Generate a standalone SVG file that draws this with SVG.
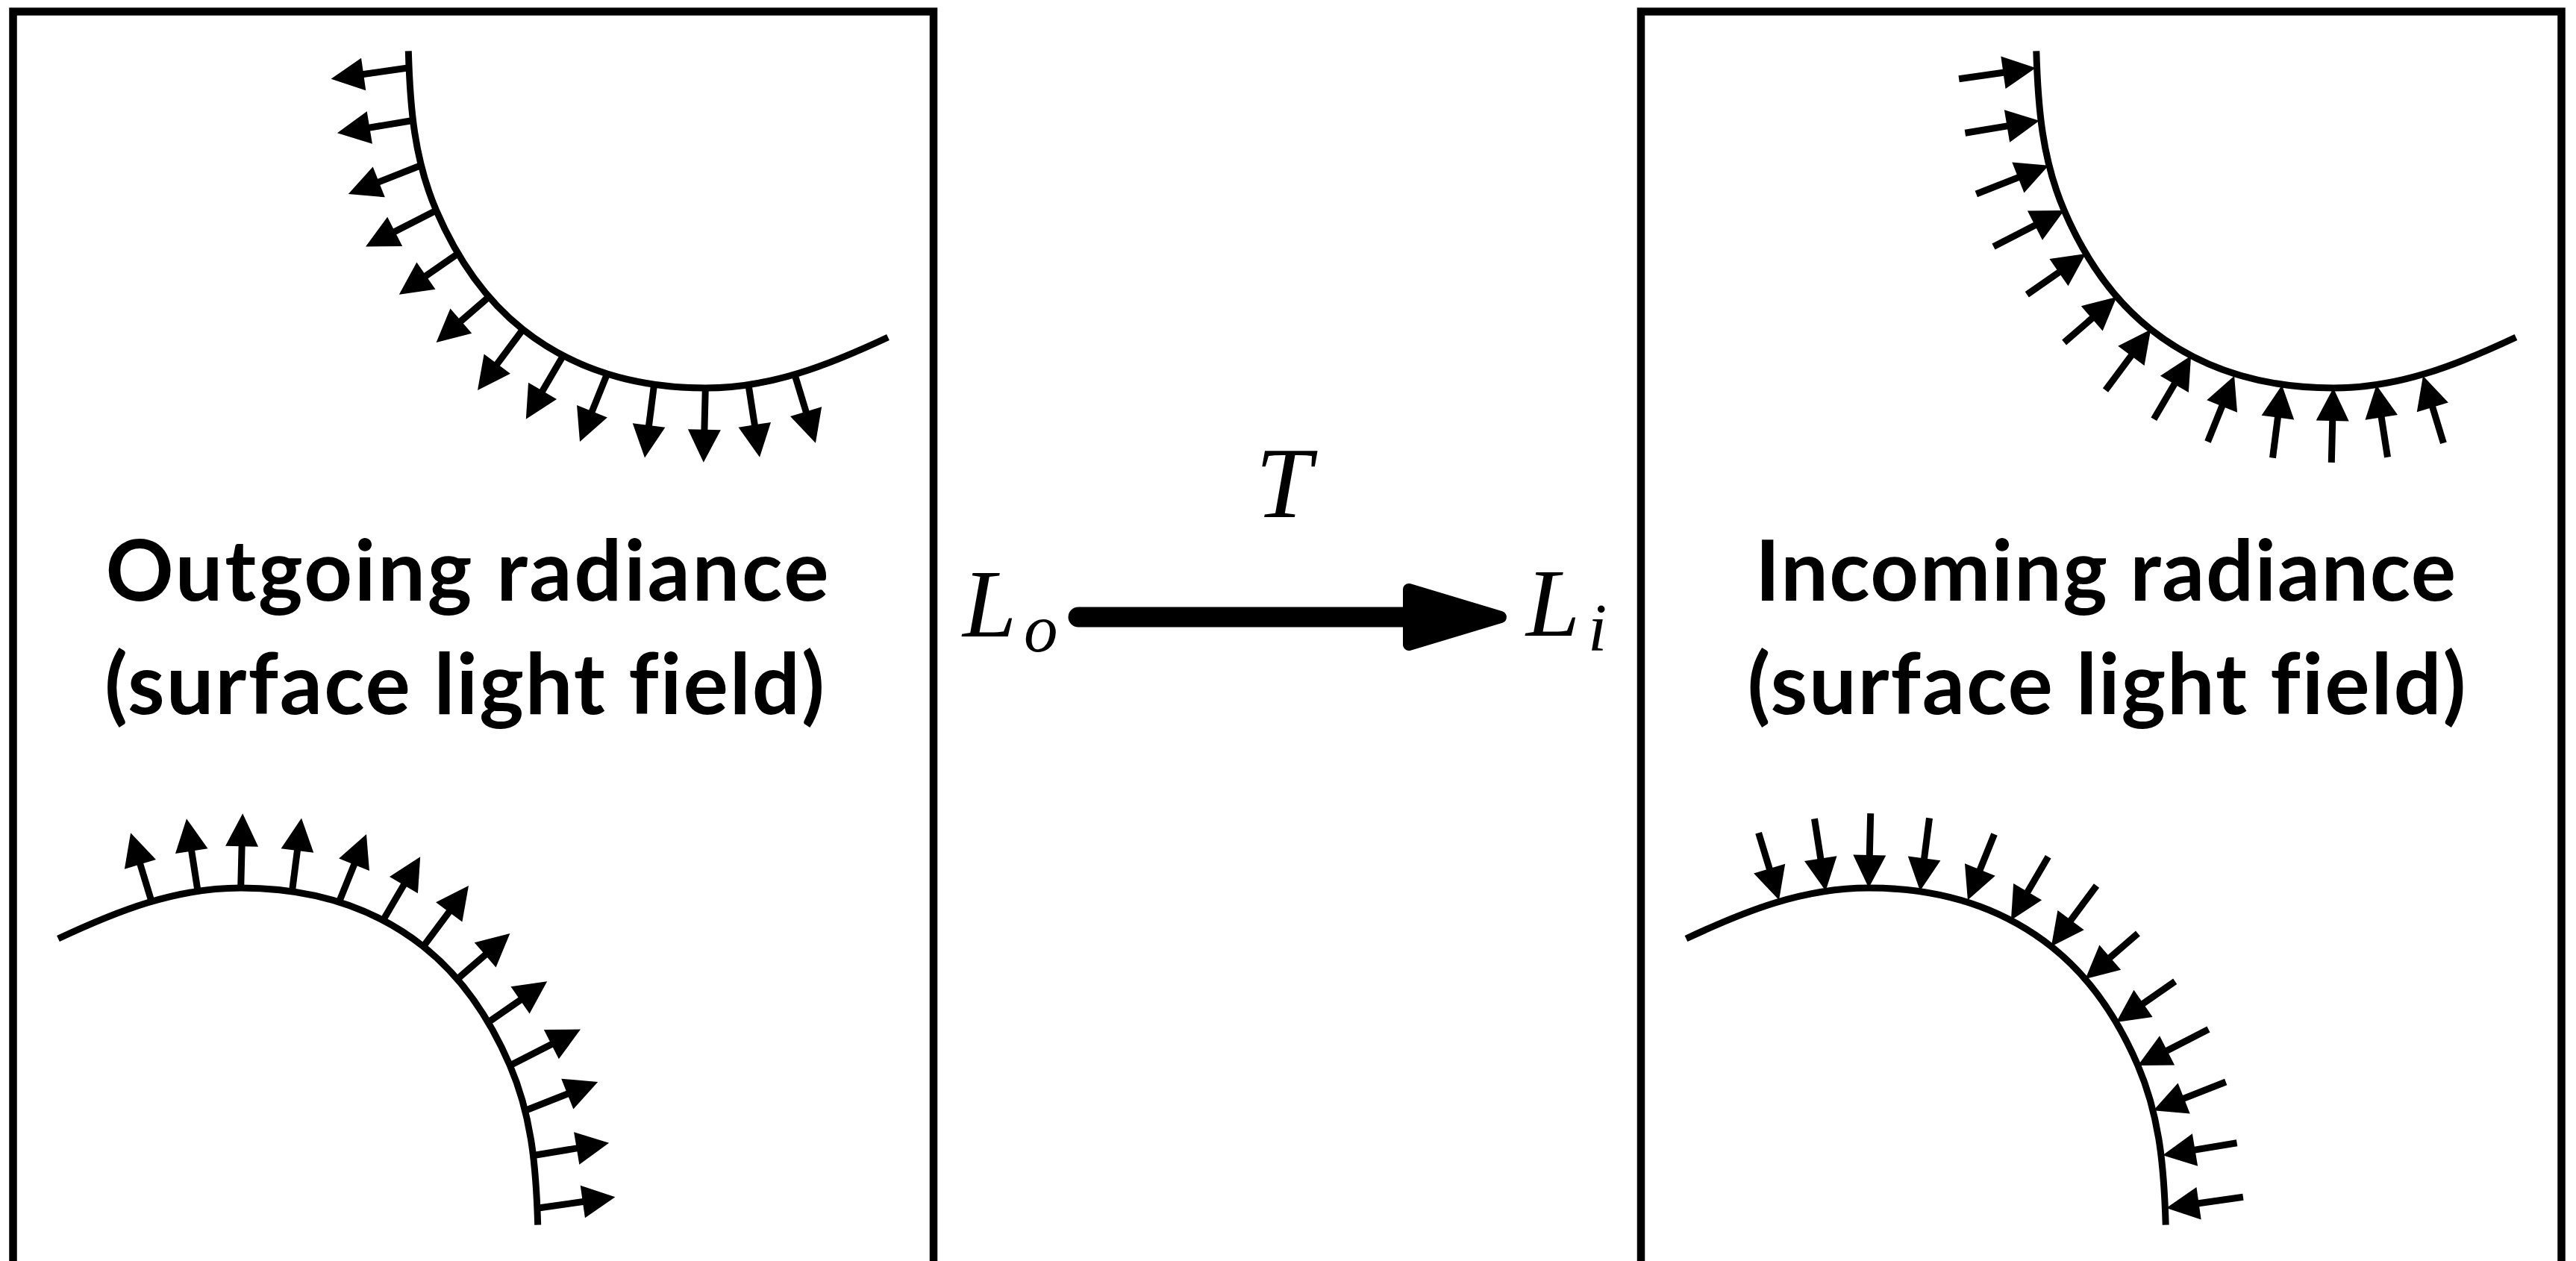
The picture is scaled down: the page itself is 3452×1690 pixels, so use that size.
<svg xmlns="http://www.w3.org/2000/svg" xmlns:xlink="http://www.w3.org/1999/xlink" width="3452" height="1690" viewBox="0 0 3452 1690">
<style>
.box{fill:none;stroke:#000;stroke-width:10.5}
.curve{fill:none;stroke:#000;stroke-width:9}
.shaft{fill:none;stroke:#000;stroke-width:9;stroke-dasharray:75 200}
.lbl{font-family:Lato,"Noto Sans","Liberation Sans",sans-serif;font-weight:700;font-size:113px;fill:#000;font-variant-ligatures:none;font-feature-settings:"liga" 0}
.math{font-family:"Liberation Serif","DejaVu Serif",serif;font-style:italic;fill:#000}
</style>
<defs>
<marker id="ah" markerUnits="userSpaceOnUse" markerWidth="60" markerHeight="60" viewBox="-50 -30 60 60" refX="0" refY="0" orient="auto" style="overflow:visible">
<path d="M-44,-22 L0,0 L-44,22 Z" fill="#000"/>
</marker>
<path id="surf" class="curve" d="M547.3,68.4 C549.5,143.4 555,213.1 584.6,282 C610.7,342.7 649,400.6 700.7,441.5 C771.3,497.3 855.3,520 945.3,520 C1033.3,520 1110.4,489.4 1190,452"/>
<g id="outArrows" marker-end="url(#ah)">
<path class="shaft" pathLength="100" d="M546.5,91 L443.6,105.7"/>
<path class="shaft" pathLength="100" d="M551.4,161.7 L451.9,178.3"/>
<path class="shaft" pathLength="100" d="M563.8,221.8 L466.8,260"/>
<path class="shaft" pathLength="100" d="M584.6,282 L490,330.4"/>
<path class="shaft" pathLength="100" d="M613.6,340 L534.8,394.7"/>
<path class="shaft" pathLength="100" d="M655,398 L584.6,459"/>
<path class="shaft" pathLength="100" d="M700.7,441.5 L640,523"/>
<path class="shaft" pathLength="100" d="M754.6,476.8 L704.8,561.8"/>
<path class="shaft" pathLength="100" d="M812.6,503.7 L777,592"/>
<path class="shaft" pathLength="100" d="M876.5,516 L864,613.6"/>
<path class="shaft" pathLength="100" d="M945.3,520 L942.8,619.8"/>
<path class="shaft" pathLength="100" d="M1003,516 L1018,612.8"/>
<path class="shaft" pathLength="100" d="M1065.5,503.7 L1092.9,593.7"/>
</g>
<g id="inArrows" marker-end="url(#ah)">
<path class="shaft" pathLength="100" d="M443.6,105.7 L546.5,91"/>
<path class="shaft" pathLength="100" d="M451.9,178.3 L551.4,161.7"/>
<path class="shaft" pathLength="100" d="M466.8,260 L563.8,221.8"/>
<path class="shaft" pathLength="100" d="M490,330.4 L584.6,282"/>
<path class="shaft" pathLength="100" d="M534.8,394.7 L613.6,340"/>
<path class="shaft" pathLength="100" d="M584.6,459 L655,398"/>
<path class="shaft" pathLength="100" d="M640,523 L700.7,441.5"/>
<path class="shaft" pathLength="100" d="M704.8,561.8 L754.6,476.8"/>
<path class="shaft" pathLength="100" d="M777,592 L812.6,503.7"/>
<path class="shaft" pathLength="100" d="M864,613.6 L876.5,516"/>
<path class="shaft" pathLength="100" d="M942.8,619.8 L945.3,520"/>
<path class="shaft" pathLength="100" d="M1018,612.8 L1003,516"/>
<path class="shaft" pathLength="100" d="M1092.9,593.7 L1065.5,503.7"/>
</g>
</defs>
<rect width="3452" height="1690" fill="#fff"/>
<g id="panel-outgoing">
<rect class="box" x="17.5" y="15.5" width="1233.5" height="1800"/>
<use xlink:href="#surf"/>
<use xlink:href="#outArrows"/>
<g transform="rotate(180 634 855)">
<use xlink:href="#surf"/>
<use xlink:href="#outArrows"/>
</g>
<text class="lbl" x="626" y="805" text-anchor="middle" textLength="969">Outgoing radiance</text>
<text class="lbl" x="622.5" y="957" text-anchor="middle" textLength="965">(surface light field)</text>
</g>
<g id="panel-incoming">
<rect class="box" x="2199" y="15.5" width="1233.5" height="1800"/>
<g transform="translate(2181.5 0)">
<use xlink:href="#surf"/>
<use xlink:href="#inArrows"/>
<g transform="rotate(180 634 855)">
<use xlink:href="#surf"/>
<use xlink:href="#inArrows"/>
</g>
</g>
<text class="lbl" x="2821.5" y="805" text-anchor="middle" textLength="939">Incoming radiance</text>
<text class="lbl" x="2823" y="957" text-anchor="middle" textLength="963">(surface light field)</text>
</g>
<g id="label-Lo">
<text class="math" x="1290" y="853" font-size="130">L</text>
<text class="math" x="1372" y="873" font-size="91">o</text>
</g>
<g id="label-Li">
<text class="math" x="2045" y="852" font-size="130">L</text>
<text class="math" x="2128" y="872" font-size="91">i</text>
</g>
<g id="connectors">
<path d="M1445,827 L1892,827" stroke="#000" stroke-width="27" stroke-linecap="round" fill="none"/>
<polygon points="1888,790 2011,827 1888,864" fill="#000" stroke="#000" stroke-width="16" stroke-linejoin="round"/>
<text class="math" x="1720" y="693" font-size="135" text-anchor="middle">T</text>
</g>
</svg>
